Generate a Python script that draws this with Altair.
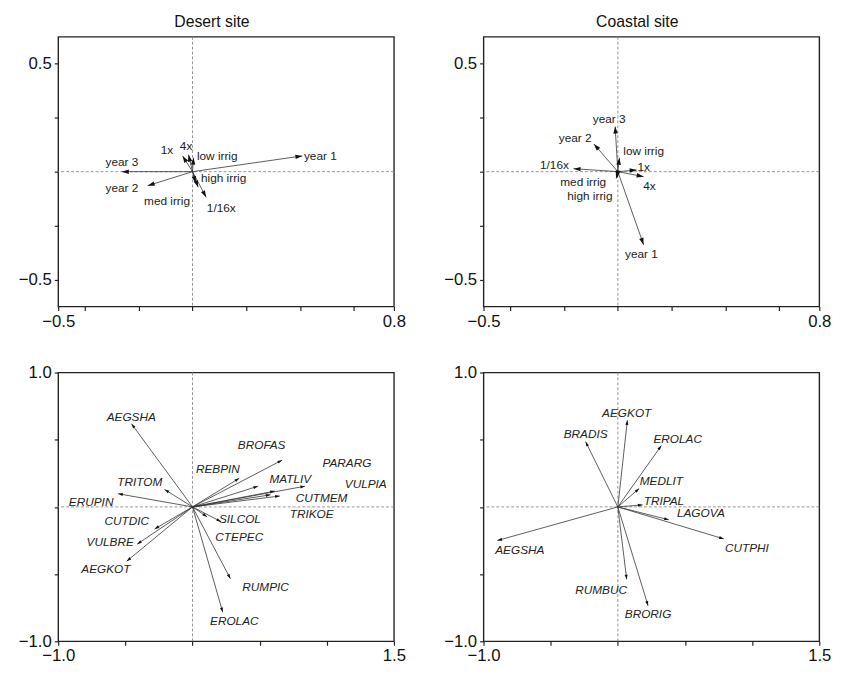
import math
import altair as alt
import pandas as pd

# ---------------- data ----------------
# Desert site, environmental variables (top-left)
desert_env_names = ["year 1", "year 2", "year 3", "1x", "4x", "1/16x", "low irrig", "med irrig", "high irrig"]
desert_env_x = [0.409, -0.167, -0.263, -0.037, -0.015, 0.051, 0.004, 0.012, 0.021]
desert_env_y = [0.073, -0.065, 0.000, 0.073, 0.079, -0.119, 0.065, -0.053, -0.072]
desert_env_lx = [0.476, -0.263, -0.263, -0.095, -0.024, 0.107, 0.092, -0.095, 0.116]
desert_env_ly = [0.073, -0.076, 0.043, 0.099, 0.117, -0.168, 0.072, -0.134, -0.031]

# Coastal site, environmental variables (top-right)
coastal_env_names = ["year 1", "year 2", "year 3", "1x", "4x", "1/16x", "low irrig", "med irrig", "high irrig"]
coastal_env_x = [0.096, -0.089, -0.010, 0.070, 0.096, -0.165, 0.006, -0.006, -0.002]
coastal_env_y = [-0.339, 0.128, 0.209, 0.008, -0.023, 0.014, 0.064, -0.032, -0.027]
coastal_env_lx = [0.088, -0.159, -0.032, 0.096, 0.118, -0.236, 0.096, -0.129, -0.104]
coastal_env_ly = [-0.382, 0.158, 0.242, 0.023, -0.068, 0.029, 0.094, -0.050, -0.111]

# Desert site, species (bottom-left)
desert_sp_names = ["AEGSHA", "BROFAS", "REBPIN", "MATLIV", "PARARG", "CUTMEM", "VULPIA", "TRIKOE", "TRITOM",
                   "ERUPIN", "CUTDIC", "VULBRE", "AEGKOT", "SILCOL", "CTEPEC", "RUMPIC", "EROLAC"]
desert_sp_x = [-0.454, 0.667, 0.348, 0.488, 0.838, 0.613, 0.650, 0.581, -0.208,
               -0.554, -0.282, -0.412, -0.490, 0.213, 0.108, 0.282, 0.225]
desert_sp_y = [0.618, 0.348, 0.213, 0.154, 0.154, 0.118, 0.081, 0.090, 0.130,
               0.098, -0.164, -0.277, -0.404, -0.110, -0.074, -0.534, -0.784]
desert_sp_lx = [-0.456, 0.515, 0.189, 0.728, 1.150, 0.961, 1.290, 0.887, -0.392,
                -0.755, -0.490, -0.613, -0.645, 0.353, 0.348, 0.544, 0.311]
desert_sp_ly = [0.667, 0.458, 0.282, 0.208, 0.328, 0.066, 0.172, -0.056, 0.184,
                0.037, -0.103, -0.262, -0.466, -0.091, -0.225, -0.596, -0.846]

# Coastal site, species (bottom-right)
coastal_sp_names = ["AEGKOT", "BRADIS", "EROLAC", "MEDLIT", "TRIPAL", "LAGOVA", "CUTPHI", "AEGSHA", "RUMBUC", "BRORIG"]
coastal_sp_x = [0.071, -0.240, 0.324, 0.159, 0.184, 0.380, 0.789, -0.897, 0.066, 0.225]
coastal_sp_y = [0.645, 0.485, 0.456, 0.137, 0.015, -0.096, -0.238, -0.250, -0.539, -0.735]
coastal_sp_lx = [0.066, -0.240, 0.446, 0.324, 0.343, 0.618, 0.961, -0.730, -0.125, 0.225]
coastal_sp_ly = [0.699, 0.542, 0.502, 0.196, 0.044, -0.047, -0.304, -0.324, -0.618, -0.794]

# axes
top_x_domain = [-0.5, 0.75]
top_y_domain = [-0.625, 0.625]
top_x_ticks = [-0.5, -0.4, -0.2, 0.0, 0.2, 0.4, 0.6, 0.75]
top_x_labels = {-0.5: "\u22120.5", 0.75: "0.8"}
top_y_ticks = [-0.5, -0.25, 0.0, 0.25, 0.5]
top_y_labels = {0.5: "0.5", -0.5: "\u22120.5"}

bot_x_domain = [-1.0, 1.5]
bot_y_domain = [-1.0, 1.0]
bot_x_ticks = [-1.0, -0.5, 0.0, 0.5, 1.0, 1.5]
bot_x_labels = {-1.0: "\u22121.0", 1.5: "1.5"}
bot_y_ticks = [-1.0, -0.5, 0.0, 0.5, 1.0]
bot_y_labels = {1.0: "1.0", -1.0: "\u22121.0"}

titles = ["Desert site", "Coastal site"]

# ---------------- styling ----------------
W = 341
H_TOP = 274
H_BOT = 273
AX_FONT = "Liberation Sans, Arial"
TXT_FONT = "Liberation Sans, Arial"
HEAD = "M0,0L0.32,1L-0.32,1Z"


def label_expr(labels):
    parts = [f"datum.value == {v} ? '{t}'" for v, t in labels.items()]
    return " : ".join(parts) + " : ''"


def make_axis(values, labels, orient):
    return alt.Axis(values=values, labelExpr=label_expr(labels), title=None, grid=False,
                    domain=False, ticks=True, tickSize=4, tickColor="#222", tickWidth=1.2,
                    labelFlush=False, labelOverlap=False, labelFont=AX_FONT, labelFontSize=17,
                    labelColor="#111", labelPadding=3, orient=orient)


def panel(names, xs, ys, lxs, lys, xdom, ydom, xt, xl, yt, yl, h, italic, head_size, title=None):
    kx = W / (xdom[1] - xdom[0])
    ky = h / (ydom[1] - ydom[0])
    ang = [(math.degrees(math.atan2(x * kx, y * ky)) + 360.0) % 360.0 for x, y in zip(xs, ys)]
    df = pd.DataFrame({"name": names, "x": xs, "y": ys, "lx": lxs, "ly": lys, "ang": ang,
                       "o": [0.0] * len(names)})
    xsc = alt.Scale(domain=xdom, nice=False, zero=False)
    ysc = alt.Scale(domain=ydom, nice=False, zero=False)
    xax = make_axis(xt, xl, "bottom")
    yax = make_axis(yt, yl, "left")
    zero = pd.DataFrame({"z": [0.0]})

    vline = alt.Chart(zero).mark_rule(color="#8a8a8a", strokeDash=[3, 2], strokeWidth=0.9).encode(
        x=alt.X("z:Q", scale=xsc, axis=xax))
    hline = alt.Chart(zero).mark_rule(color="#8a8a8a", strokeDash=[3, 2], strokeWidth=0.9).encode(
        y=alt.Y("z:Q", scale=ysc, axis=yax))
    base = alt.Chart(df)
    shafts = base.mark_rule(color="#333", strokeWidth=0.8).encode(
        x=alt.X("o:Q", scale=xsc, axis=xax), y=alt.Y("o:Q", scale=ysc, axis=yax),
        x2="x:Q", y2="y:Q")
    heads = base.mark_point(shape=HEAD, filled=True, size=head_size, color="#111", opacity=1,
                            strokeWidth=0).encode(
        x=alt.X("x:Q", scale=xsc, axis=xax), y=alt.Y("y:Q", scale=ysc, axis=yax),
        angle=alt.Angle("ang:Q", scale=None))
    text = base.mark_text(font=TXT_FONT, fontSize=12, fontStyle="italic" if italic else "normal",
                          color="#222", align="center", baseline="middle").encode(
        x=alt.X("lx:Q", scale=xsc, axis=xax), y=alt.Y("ly:Q", scale=ysc, axis=yax), text="name:N")
    props = dict(width=W, height=h)
    if title:
        props["title"] = alt.TitleParams(title, font=AX_FONT, fontSize=16, fontWeight="normal",
                                         color="#111", offset=6, anchor="middle", frame="bounds")
    return alt.layer(vline, hline, shafts, heads, text).properties(**props)


p1 = panel(desert_env_names, desert_env_x, desert_env_y, desert_env_lx, desert_env_ly,
           top_x_domain, top_y_domain, top_x_ticks, top_x_labels, top_y_ticks, top_y_labels,
           H_TOP, False, 200, titles[0])
p2 = panel(coastal_env_names, coastal_env_x, coastal_env_y, coastal_env_lx, coastal_env_ly,
           top_x_domain, top_y_domain, top_x_ticks, top_x_labels, top_y_ticks, top_y_labels,
           H_TOP, False, 200, titles[1])
p3 = panel(desert_sp_names, desert_sp_x, desert_sp_y, desert_sp_lx, desert_sp_ly,
           bot_x_domain, bot_y_domain, bot_x_ticks, bot_x_labels, bot_y_ticks, bot_y_labels,
           H_BOT, True, 90)
p4 = panel(coastal_sp_names, coastal_sp_x, coastal_sp_y, coastal_sp_lx, coastal_sp_ly,
           bot_x_domain, bot_y_domain, bot_x_ticks, bot_x_labels, bot_y_ticks, bot_y_labels,
           H_BOT, True, 90)

chart = alt.concat(p1, p2, p3, p4, columns=2, spacing={"row": 67, "column": 91},
                   bounds="flush").properties(
    padding={"left": 9, "top": 0, "right": 5, "bottom": 5}, background="white"
).configure_view(stroke="#222", strokeWidth=1.4)

chart.save("out.html", embed_options={"renderer": "svg", "actions": False})
